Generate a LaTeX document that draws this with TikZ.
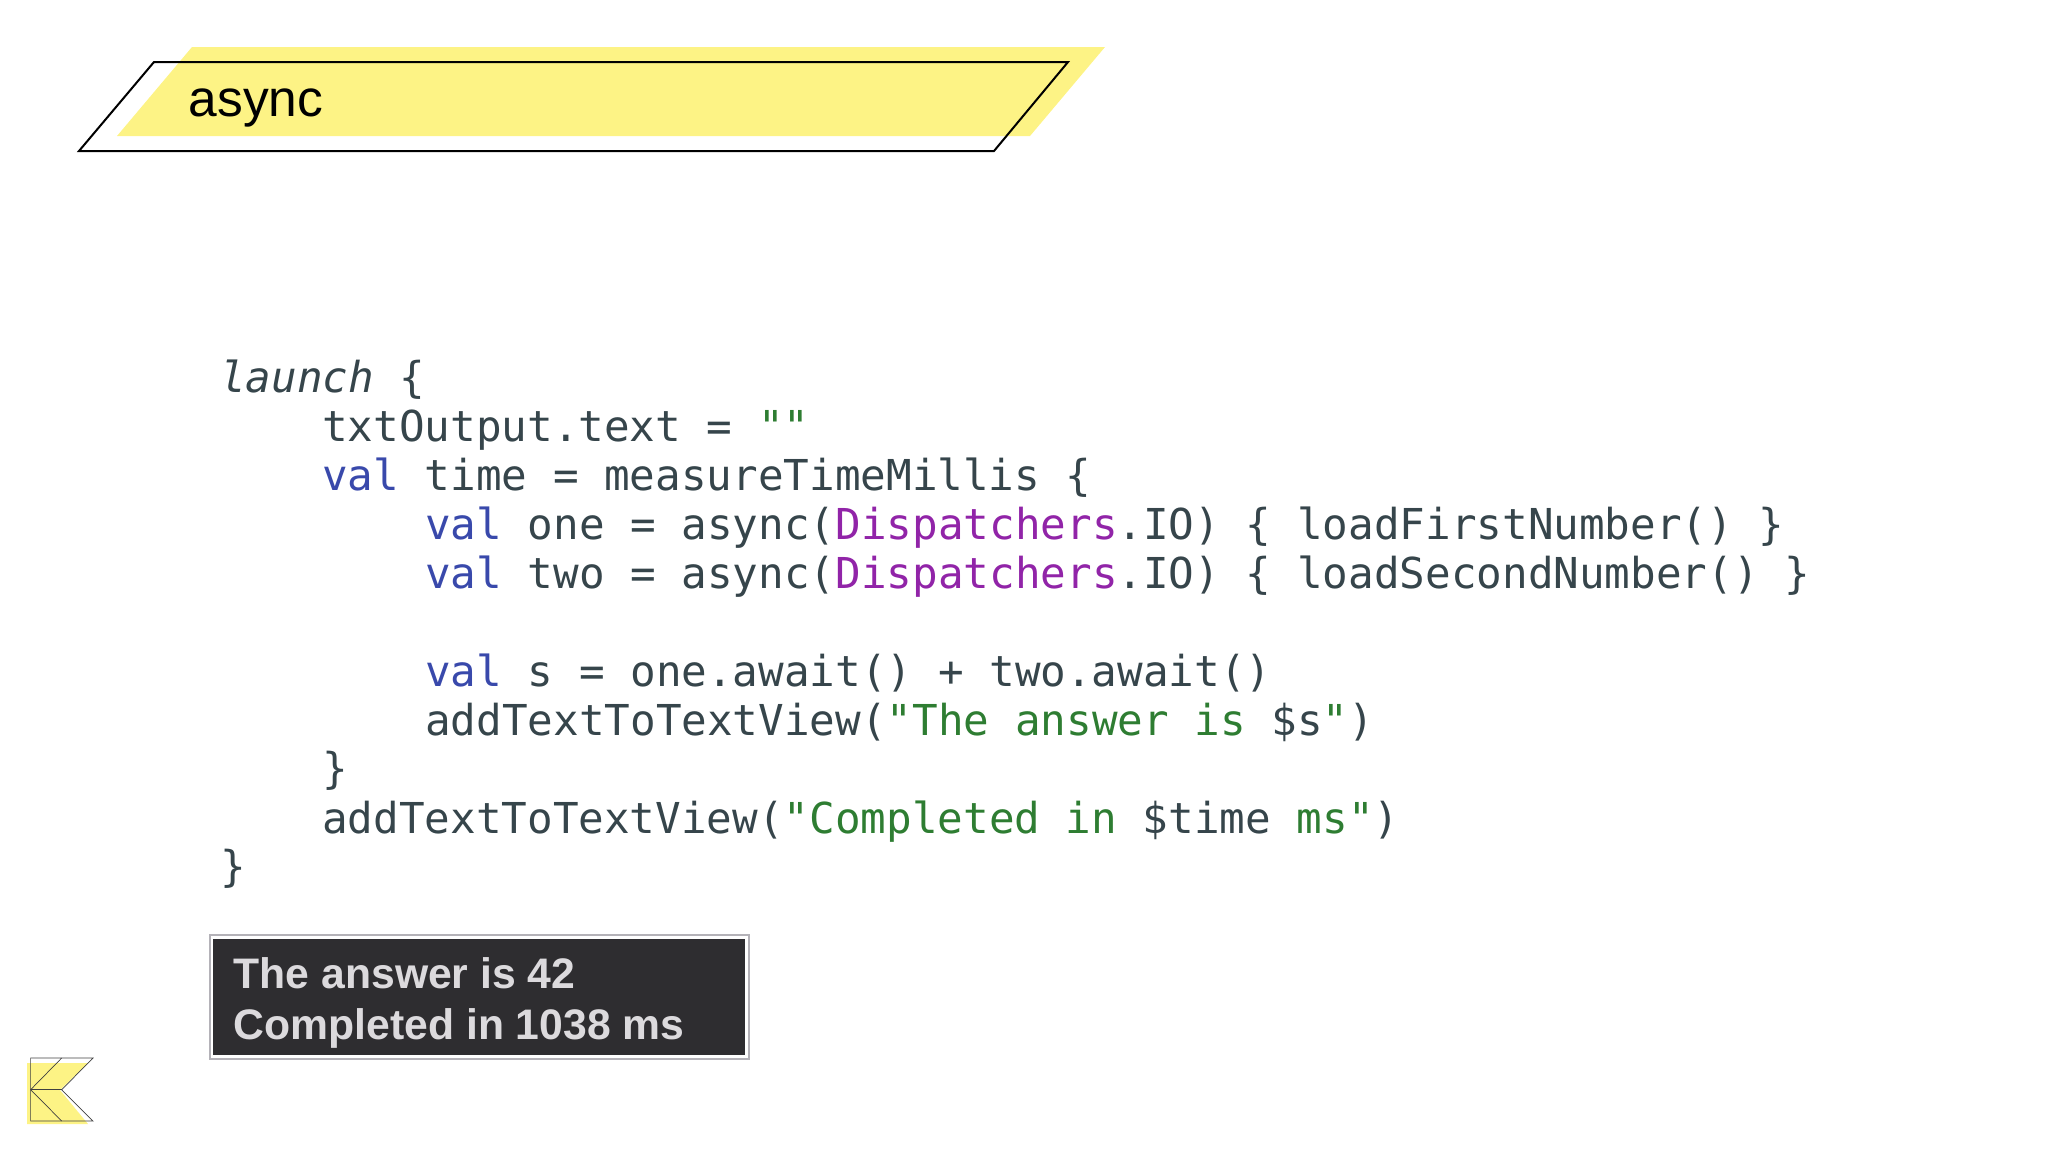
\documentclass[tikz,border=0pt]{standalone}
\usepackage{fontspec}
\setmainfont{Liberation Sans}
\newfontfamily\codefont{DejaVu Sans Mono}
\definecolor{marker}{HTML}{FDF385}
\definecolor{codeink}{HTML}{36454B}
\definecolor{codekey}{HTML}{3949AB}
\definecolor{codeobj}{HTML}{9124A8}
\definecolor{codestr}{HTML}{2E7D32}
\definecolor{consolebg}{HTML}{2E2D30}
\definecolor{consoleink}{HTML}{DCDADD}
\definecolor{consoleedge}{HTML}{B4B2B8}
\newcommand{\kw}[1]{\textcolor{codekey}{#1}}
\newcommand{\obj}[1]{\textcolor{codeobj}{#1}}
\newcommand{\lit}[1]{\textcolor{codestr}{#1}}
\tikzset{
  codeline/.style={anchor=base west, inner sep=0pt, text=codeink, font=\codefont\fontsize{42.6}{49}\selectfont},
  outputline/.style={anchor=base west, inner sep=0pt, text=consoleink, font=\bfseries\fontsize{42.7}{50}\selectfont},
  logoline/.style={draw=black!75, line width=0.7pt}
}
\begin{document}
\begin{tikzpicture}[x=1pt, y=-1pt]
    \useasboundingbox (0,0) rectangle (2048,1152);
    % title
    \fill[marker] (192,47)--(1105,47)--(1030,136)--(117,136)--cycle;
    \draw[line width=2pt] (154,62)--(1068,62)--(994,151)--(79,151)--cycle;
    \node[anchor=base west, inner sep=0pt, font=\fontsize{51.5}{60}\selectfont] (title) at (188.5,116) {async};
    % code
    \node[codeline] (launchline) at (220,392) {\textit{launch} \{};
    \node[codeline] (resetline) at (322,441) {txtOutput.text = \lit{""}};
    \node[codeline] (timeline) at (322,490) {\kw{val} time = measureTimeMillis \{};
    \node[codeline] (oneline) at (425,539) {\kw{val} one = async(\obj{Dispatchers}.IO) \{ loadFirstNumber() \}};
    \node[codeline] (twoline) at (425,588) {\kw{val} two = async(\obj{Dispatchers}.IO) \{ loadSecondNumber() \}};
    \node[codeline] (sumline) at (425,686) {\kw{val} s = one.await() + two.await()};
    \node[codeline] (answerline) at (425,735) {addTextToTextView(\lit{"The answer is }\$s\lit{"})};
    \node[codeline] (innerclose) at (322,783) {\}};
    \node[codeline] (doneline) at (322,833) {addTextToTextView(\lit{"Completed in }\$time \lit{ms"})};
    \node[codeline] (outerclose) at (220,881) {\}};
    % output box
    \draw[consoleedge, line width=1.5pt] (210,935) rectangle (749,1059);
    \fill[consolebg] (213,939) rectangle (745,1055);
    \node[outputline] (answer) at (233.5,988) {The answer is 42};
    \node[outputline] (elapsed) at (233.5,1039) {Completed in 1038 ms};
    % logo
    \fill[marker] (27,1063)--(88,1063)--(60,1090)--(88,1124)--(27,1124)--cycle;
    \draw[logoline] (30.6,1058)--(93,1058)--(61.7,1089.7)--(93,1121)--(30.6,1121)--cycle;
    \draw[logoline] (61.7,1058)--(30.6,1089.7)--(61.7,1121);
    \draw[logoline] (30.6,1089.7)--(61.7,1089.7);
\end{tikzpicture}
\end{document}
